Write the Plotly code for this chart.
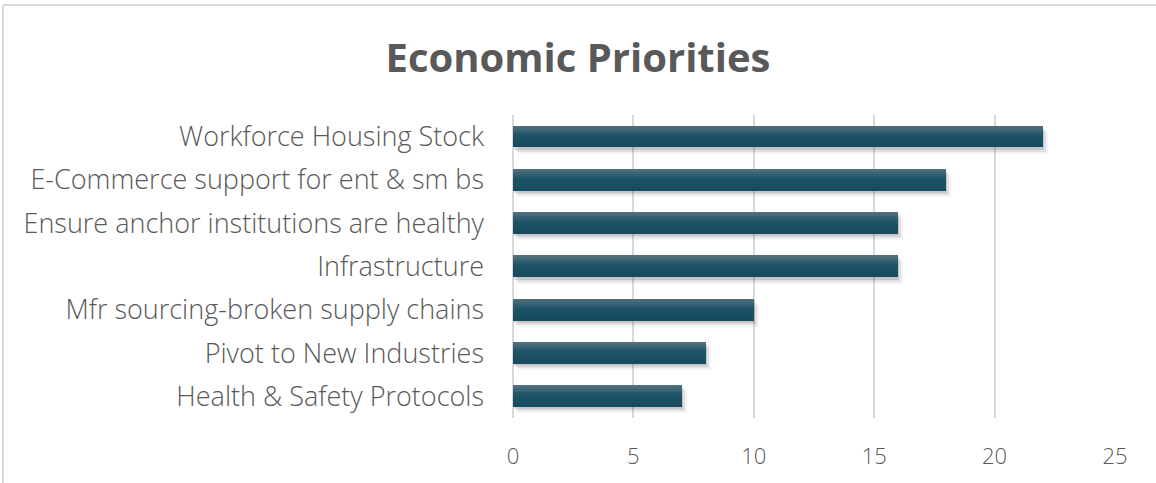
import plotly.graph_objects as go

# Priorities and number of mentions, listed top to bottom
categories = [
    "Workforce Housing Stock",
    "E-Commerce support for ent & sm bs",
    "Ensure anchor institutions are healthy",
    "Infrastructure",
    "Mfr sourcing-broken supply chains",
    "Pivot to New Industries",
    "Health & Safety Protocols",
]
values = [22, 18, 16, 16, 10, 8, 7]
x_ticks = [0, 5, 10, 15, 20, 25]

W, H = 1156, 483
ML, MR, MT, MB = 513, 41, 115, 65
PW, PH = W - ML - MR, H - MT - MB
N = len(categories)
BAR_W = 0.49
XMAX = 25

fig = go.Figure()

# invisible trace that anchors the visible axes and grid
fig.add_trace(go.Bar(
    x=values, y=categories, orientation="h", width=BAR_W,
    marker=dict(color="rgba(0,0,0,0)", line=dict(width=0)),
    hoverinfo="skip", showlegend=False,
))

# soft drop shadow: same bars drawn on slightly shifted, hidden axes
shadow_layers = [(1, 2, 0.16), (3, 4, 0.11), (5, 6, 0.06)]
ax = 2
for dx, dy, op in shadow_layers:
    fx, fy = dx / PW, dy / PH
    fig.add_trace(go.Bar(
        x=values, y=categories, orientation="h", width=BAR_W + 0.02,
        marker=dict(color=f"rgba(60,60,60,{op})", line=dict(width=0)),
        xaxis=f"x{ax}", yaxis=f"y{ax}", hoverinfo="skip", showlegend=False,
    ))
    fig.layout[f"xaxis{ax}"] = dict(
        domain=[fx, 1], range=[0, XMAX * (1 - fx)], visible=False,
        fixedrange=True, anchor=f"y{ax}")
    fig.layout[f"yaxis{ax}"] = dict(
        domain=[0, 1 - fy], type="category", categoryarray=categories,
        range=[-0.5 + N * (1 - fy), -0.5], visible=False, fixedrange=True,
        anchor=f"x{ax}")
    ax += 1

# main bars with a light-to-dark vertical gradient, on their own top layer
main_ax = ax
fig.layout[f"xaxis{main_ax}"] = dict(
    domain=[0, 1], range=[0, XMAX], visible=False, fixedrange=True,
    anchor=f"y{main_ax}")
fig.layout[f"yaxis{main_ax}"] = dict(
    domain=[0, 1], type="category", categoryarray=categories,
    range=[N - 0.5, -0.5], visible=False, fixedrange=True,
    anchor=f"x{main_ax}")

top_col = (80, 112, 126)
mid_col = (29, 84, 104)
bot_col = (24, 75, 95)
n_bands = 12
band = BAR_W / n_bands
for k in range(n_bands):
    t = k / (n_bands - 1)
    if t < 0.45:
        s = t / 0.45
        c = [round(a + (b - a) * s) for a, b in zip(top_col, mid_col)]
    else:
        s = (t - 0.45) / 0.55
        c = [round(a + (b - a) * s) for a, b in zip(mid_col, bot_col)]
    fig.add_trace(go.Bar(
        x=values, y=categories, orientation="h",
        width=band * 1.08, offset=-BAR_W / 2 + k * band,
        marker=dict(color=f"rgb({c[0]},{c[1]},{c[2]})", line=dict(width=0)),
        xaxis=f"x{main_ax}", yaxis=f"y{main_ax}",
        showlegend=False, hovertemplate="%{y}: %{x}<extra></extra>",
    ))

font_family = "Open Sans, Noto Sans, sans-serif"
text_col = "#595959"

fig.update_layout(
    width=W, height=H,
    margin=dict(l=ML, r=MR, t=MT, b=MB),
    paper_bgcolor="white", plot_bgcolor="rgba(0,0,0,0)",
    barmode="overlay",
    bargap=0,
    title=dict(
        text="<b>Economic Priorities</b>",
        x=0.5, xref="container", xanchor="center",
        y=1 - 58 / H, yref="container", yanchor="middle",
        font=dict(family=font_family, size=40, color=text_col),
    ),
    xaxis=dict(
        range=[0, XMAX], tickvals=x_ticks, showgrid=True,
        gridcolor="#d9d9d9", gridwidth=1.5, zeroline=True,
        zerolinecolor="#d9d9d9", zerolinewidth=1.5, showline=False,
        ticks="", ticklabelstandoff=23,
        tickfont=dict(family=font_family, size=22, color=text_col, weight=300),
        fixedrange=True,
    ),
    yaxis=dict(
        type="category", categoryarray=categories, categoryorder="array",
        range=[N - 0.5, -0.5], showgrid=False, zeroline=False,
        ticks="", ticklabelstandoff=28,
        tickfont=dict(family=font_family, size=27, color=text_col, weight=300),
        fixedrange=True,
    ),
    shapes=[
        # outer chart frame (top and left edges visible)
        dict(type="line", xref="paper", yref="paper",
             x0=(3 - ML) / PW, x1=(W + 5 - ML) / PW,
             y0=(H - MB - 5) / PH, y1=(H - MB - 5) / PH,
             line=dict(color="#d9d9d9", width=2)),
        dict(type="line", xref="paper", yref="paper",
             x0=(3 - ML) / PW, x1=(3 - ML) / PW,
             y0=(H - MB - 5) / PH, y1=-(MB + 5) / PH,
             line=dict(color="#d9d9d9", width=2)),
    ],
)

fig.write_html("out.html")
